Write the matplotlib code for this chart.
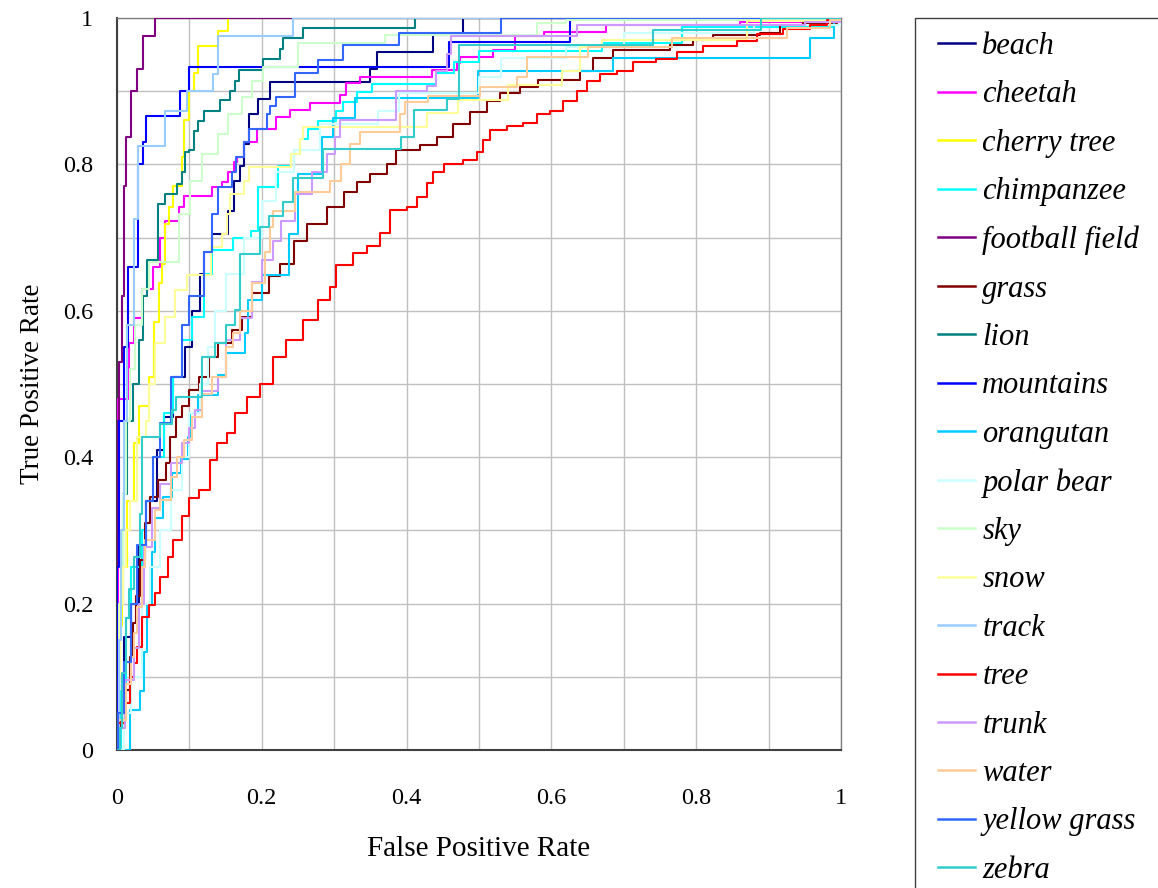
import matplotlib
matplotlib.use("Agg")
import matplotlib.pyplot as plt
from matplotlib.patches import Rectangle

plt.rcParams['font.family'] = ['Liberation Serif', 'DejaVu Serif']

labels = ["beach", "cheetah", "cherry tree", "chimpanzee", "football field", "grass",
          "lion", "mountains", "orangutan", "polar bear", "sky", "snow", "track",
          "tree", "trunk", "water", "yellow grass", "zebra"]
colors = ["#000080", "#FF00FF", "#FFFF00", "#00FFFF", "#800080", "#800000",
          "#008080", "#0000FF", "#00CCFF", "#CCFFFF", "#CCFFCC", "#FFFF99",
          "#99CCFF", "#FF0000", "#CC99FF", "#FFCC99", "#3366FF", "#33CCCC"]

# ROC vertices (fpr, tpr); drawn as post-steps
beach_fpr = [0, 0.003, 0.01, 0.02, 0.03, 0.04, 0.055, 0.065, 0.078, 0.094, 0.104, 0.115, 0.12, 0.131, 0.154, 0.161, 0.17, 0.175, 0.182, 0.195, 0.211, 0.35, 0.359, 0.437, 0.478, 1]
beach_tpr = [0, 0.1, 0.155, 0.2, 0.28, 0.34, 0.41, 0.455, 0.51, 0.55, 0.6, 0.65, 0.68, 0.705, 0.737, 0.778, 0.798, 0.828, 0.869, 0.889, 0.912, 0.931, 0.954, 0.977, 1.0, 1]

cheetah_fpr = [0, 0.001, 0.016, 0.023, 0.035, 0.05, 0.06, 0.066, 0.085, 0.092, 0.131, 0.145, 0.154, 0.161, 0.166, 0.175, 0.193, 0.22, 0.239, 0.266, 0.308, 0.316, 0.336, 0.435, 0.469, 0.474, 0.519, 0.55, 0.59, 0.676, 0.86, 1]
cheetah_tpr = [0, 0.48, 0.556, 0.59, 0.63, 0.66, 0.70, 0.723, 0.742, 0.757, 0.769, 0.776, 0.79, 0.803, 0.81, 0.83, 0.848, 0.865, 0.874, 0.884, 0.895, 0.911, 0.92, 0.929, 0.938, 0.947, 0.956, 0.975, 0.981, 0.99, 0.995, 1]

cherry_fpr = [0, 0.0, 0.004, 0.007, 0.014, 0.023, 0.03, 0.044, 0.051, 0.058, 0.062, 0.066, 0.072, 0.077, 0.09, 0.092, 0.099, 0.106, 0.112, 0.14, 0.154, 1]
cherry_tpr = [0, 0.1, 0.17, 0.25, 0.34, 0.42, 0.47, 0.51, 0.585, 0.638, 0.664, 0.718, 0.742, 0.77, 0.81, 0.86, 0.9, 0.925, 0.962, 0.982, 1.0, 1]

chimp_fpr = [0, 0.005, 0.012, 0.02, 0.035, 0.04, 0.05, 0.065, 0.078, 0.09, 0.103, 0.12, 0.131, 0.16, 0.185, 0.195, 0.222, 0.241, 0.253, 0.264, 0.278, 0.303, 0.312, 0.331, 0.352, 0.44, 0.465, 0.5, 0.67, 0.78, 0.99, 1]
chimp_tpr = [0, 0.08, 0.18, 0.25, 0.3, 0.34, 0.4, 0.46, 0.51, 0.56, 0.592, 0.65, 0.683, 0.7, 0.709, 0.769, 0.798, 0.814, 0.835, 0.848, 0.859, 0.873, 0.885, 0.899, 0.91, 0.925, 0.94, 0.955, 0.966, 0.988, 1.0, 1]

football_fpr = [0, 0.0, 0.003, 0.007, 0.009, 0.01, 0.013, 0.019, 0.028, 0.036, 0.052, 1]
football_tpr = [0, 0.45, 0.53, 0.62, 0.70, 0.77, 0.837, 0.90, 0.93, 0.975, 1.0, 1]

grass_fpr = [0, 0.004, 0.011, 0.018, 0.022, 0.026, 0.032, 0.039, 0.046, 0.056, 0.067, 0.073, 0.081, 0.09, 0.099, 0.113, 0.127, 0.14, 0.159, 0.173, 0.186, 0.21, 0.225, 0.244, 0.262, 0.29, 0.313, 0.331, 0.349, 0.373, 0.386, 0.419, 0.442, 0.464, 0.488, 0.511, 0.529, 0.557, 0.581, 0.64, 0.657, 0.685, 0.764, 0.796, 0.823, 0.888, 0.916, 0.948, 0.994, 1]
grass_tpr = [0, 0.04, 0.082, 0.127, 0.173, 0.21, 0.26, 0.31, 0.346, 0.369, 0.392, 0.428, 0.455, 0.47, 0.492, 0.51, 0.537, 0.556, 0.574, 0.592, 0.624, 0.647, 0.664, 0.696, 0.718, 0.742, 0.762, 0.776, 0.787, 0.8, 0.82, 0.826, 0.837, 0.855, 0.872, 0.886, 0.897, 0.906, 0.915, 0.927, 0.945, 0.956, 0.963, 0.97, 0.977, 0.98, 0.99, 0.993, 0.997, 1]

lion_fpr = [0, 0.003, 0.008, 0.014, 0.022, 0.03, 0.036, 0.042, 0.057, 0.066, 0.083, 0.09, 0.094, 0.1, 0.106, 0.112, 0.12, 0.142, 0.156, 0.163, 0.168, 0.202, 0.225, 0.229, 0.257, 0.412, 1]
lion_tpr = [0, 0.2, 0.35, 0.45, 0.5, 0.56, 0.62, 0.67, 0.746, 0.76, 0.773, 0.79, 0.817, 0.82, 0.846, 0.859, 0.873, 0.888, 0.9, 0.914, 0.929, 0.944, 0.957, 0.973, 0.986, 1.0, 1]

mount_fpr = [0, 0.0, 0.003, 0.01, 0.015, 0.029, 0.036, 0.04, 0.087, 0.1, 0.459, 0.626, 1]
mount_tpr = [0, 0.25, 0.45, 0.55, 0.66, 0.80, 0.83, 0.866, 0.9, 0.933, 0.967, 1.0, 1]

orang_fpr = [0, 0.018, 0.032, 0.037, 0.041, 0.048, 0.053, 0.064, 0.076, 0.089, 0.098, 0.101, 0.112, 0.14, 0.151, 0.177, 0.181, 0.2, 0.237, 0.25, 0.283, 0.299, 0.329, 0.499, 0.685, 0.957, 0.991, 1]
orang_tpr = [0, 0.055, 0.08, 0.134, 0.2, 0.271, 0.317, 0.346, 0.378, 0.398, 0.428, 0.46, 0.485, 0.512, 0.542, 0.569, 0.615, 0.649, 0.705, 0.787, 0.837, 0.864, 0.891, 0.927, 0.945, 0.972, 1.0, 1]

polar_fpr = [0, 0.01, 0.02, 0.035, 0.045, 0.06, 0.075, 0.09, 0.1, 0.115, 0.125, 0.135, 0.15, 0.175, 0.2, 0.22, 0.245, 0.28, 0.36, 0.39, 0.5, 0.53, 0.62, 0.7, 0.88, 1]
polar_tpr = [0, 0.05, 0.1, 0.2, 0.25, 0.3, 0.355, 0.4, 0.46, 0.5, 0.55, 0.6, 0.65, 0.7, 0.75, 0.79, 0.82, 0.855, 0.873, 0.897, 0.92, 0.945, 0.96, 0.98, 0.99, 1]

sky_fpr = [0, 0.003, 0.008, 0.012, 0.018, 0.025, 0.035, 0.044, 0.085, 0.101, 0.117, 0.14, 0.154, 0.173, 0.186, 0.202, 0.25, 0.37, 0.58, 0.62, 1]
sky_tpr = [0, 0.2, 0.35, 0.45, 0.52, 0.58, 0.63, 0.667, 0.732, 0.778, 0.814, 0.842, 0.869, 0.892, 0.914, 0.933, 0.966, 0.977, 0.993, 0.997, 1]

snow_fpr = [0, 0.003, 0.004, 0.008, 0.012, 0.018, 0.028, 0.04, 0.044, 0.053, 0.066, 0.08, 0.096, 0.13, 0.145, 0.152, 0.156, 0.175, 0.182, 0.241, 0.253, 0.257, 0.428, 0.471, 0.54, 0.614, 0.64, 0.67, 0.87, 1]
snow_tpr = [0, 0.1, 0.2, 0.25, 0.3, 0.34, 0.428, 0.45, 0.5, 0.556, 0.592, 0.628, 0.649, 0.687, 0.705, 0.732, 0.76, 0.778, 0.796, 0.814, 0.835, 0.851, 0.87, 0.888, 0.908, 0.927, 0.96, 0.97, 0.996, 1]

track_fpr = [0, 0.003, 0.006, 0.01, 0.014, 0.023, 0.029, 0.066, 0.096, 0.133, 0.14, 0.243, 1]
track_tpr = [0, 0.15, 0.3, 0.45, 0.58, 0.725, 0.825, 0.873, 0.90, 0.923, 0.975, 1.0, 1]

tree_fpr = [0, 0.002, 0.011, 0.018, 0.023, 0.028, 0.035, 0.044, 0.053, 0.06, 0.071, 0.078, 0.09, 0.099, 0.113, 0.128, 0.138, 0.152, 0.163, 0.179, 0.198, 0.216, 0.234, 0.257, 0.278, 0.294, 0.303, 0.326, 0.345, 0.363, 0.377, 0.4, 0.414, 0.428, 0.437, 0.451, 0.478, 0.497, 0.506, 0.515, 0.538, 0.561, 0.58, 0.598, 0.616, 0.635, 0.649, 0.667, 0.69, 0.713, 0.745, 0.773, 0.81, 0.856, 0.884, 0.92, 0.957, 0.98, 1]
tree_tpr = [0, 0.037, 0.064, 0.1, 0.119, 0.141, 0.182, 0.198, 0.214, 0.237, 0.264, 0.287, 0.319, 0.344, 0.355, 0.396, 0.419, 0.433, 0.46, 0.482, 0.5, 0.537, 0.56, 0.587, 0.615, 0.633, 0.662, 0.679, 0.688, 0.706, 0.738, 0.742, 0.755, 0.774, 0.79, 0.801, 0.806, 0.817, 0.833, 0.847, 0.852, 0.857, 0.869, 0.873, 0.887, 0.9, 0.914, 0.923, 0.928, 0.94, 0.944, 0.953, 0.962, 0.969, 0.978, 0.985, 0.99, 0.997, 1]

trunk_fpr = [0, 0.004, 0.011, 0.023, 0.03, 0.037, 0.048, 0.06, 0.074, 0.09, 0.1, 0.108, 0.117, 0.14, 0.15, 0.17, 0.186, 0.2, 0.216, 0.227, 0.246, 0.269, 0.29, 0.301, 0.308, 0.386, 0.428, 0.44, 0.456, 0.461, 0.636, 0.95, 1]
trunk_tpr = [0, 0.03, 0.096, 0.14, 0.2, 0.277, 0.33, 0.364, 0.392, 0.419, 0.44, 0.464, 0.49, 0.51, 0.56, 0.59, 0.64, 0.67, 0.695, 0.723, 0.76, 0.789, 0.814, 0.837, 0.86, 0.9, 0.907, 0.928, 0.951, 0.976, 0.99, 0.995, 1]

water_fpr = [0, 0.002, 0.012, 0.02, 0.024, 0.028, 0.035, 0.039, 0.053, 0.06, 0.074, 0.083, 0.092, 0.104, 0.117, 0.131, 0.15, 0.16, 0.17, 0.186, 0.205, 0.212, 0.216, 0.246, 0.294, 0.31, 0.322, 0.335, 0.391, 0.398, 0.43, 0.501, 0.552, 0.566, 0.651, 0.766, 0.925, 0.985, 1]
water_tpr = [0, 0.041, 0.09, 0.127, 0.16, 0.196, 0.25, 0.287, 0.328, 0.342, 0.373, 0.4, 0.423, 0.455, 0.487, 0.51, 0.551, 0.57, 0.6, 0.638, 0.68, 0.715, 0.737, 0.762, 0.778, 0.8, 0.828, 0.844, 0.869, 0.885, 0.894, 0.906, 0.92, 0.947, 0.96, 0.972, 0.986, 0.997, 1]

ygrass_fpr = [0, 0.002, 0.01, 0.02, 0.028, 0.04, 0.05, 0.06, 0.074, 0.09, 0.1, 0.12, 0.131, 0.14, 0.159, 0.165, 0.175, 0.182, 0.207, 0.211, 0.22, 0.246, 0.278, 0.312, 0.39, 0.531, 1]
ygrass_tpr = [0, 0.05, 0.12, 0.2, 0.28, 0.34, 0.4, 0.447, 0.51, 0.58, 0.62, 0.68, 0.732, 0.769, 0.79, 0.81, 0.83, 0.848, 0.869, 0.88, 0.892, 0.925, 0.943, 0.963, 0.98, 1.0, 1]

zebra_fpr = [0, 0.004, 0.007, 0.012, 0.016, 0.023, 0.032, 0.035, 0.06, 0.076, 0.081, 0.117, 0.135, 0.15, 0.163, 0.17, 0.197, 0.21, 0.229, 0.243, 0.285, 0.392, 0.41, 0.456, 0.472, 0.74, 0.89, 1]
zebra_tpr = [0, 0.03, 0.105, 0.18, 0.22, 0.264, 0.323, 0.428, 0.446, 0.464, 0.482, 0.537, 0.556, 0.58, 0.601, 0.678, 0.714, 0.73, 0.748, 0.782, 0.821, 0.838, 0.874, 0.89, 0.963, 0.984, 1.0, 1]

curves = [(beach_fpr, beach_tpr), (cheetah_fpr, cheetah_tpr), (cherry_fpr, cherry_tpr),
          (chimp_fpr, chimp_tpr), (football_fpr, football_tpr), (grass_fpr, grass_tpr),
          (lion_fpr, lion_tpr), (mount_fpr, mount_tpr), (orang_fpr, orang_tpr),
          (polar_fpr, polar_tpr), (sky_fpr, sky_tpr), (snow_fpr, snow_tpr),
          (track_fpr, track_tpr), (tree_fpr, tree_tpr), (trunk_fpr, trunk_tpr),
          (water_fpr, water_tpr), (ygrass_fpr, ygrass_tpr), (zebra_fpr, zebra_tpr)]

grid_vals = [i / 10 for i in range(11)]
tick_labels = ["0", "", "0.2", "", "0.4", "", "0.6", "", "0.8", "", "1"]

W, H = 1158, 888
fig = plt.figure(figsize=(W / 100, H / 100), dpi=100)
ax = fig.add_axes([117 / W, (888 - 750) / H, (841 - 117) / W, (750 - 18) / H])

for (fx, ty), lab, col in zip(curves, labels, colors):
    ax.plot(fx, ty, drawstyle='steps-post', color=col, lw=1.5, label=lab, zorder=3)

ax.set_xlim(0, 1)
ax.set_ylim(0, 1)
ax.set_xticks(grid_vals)
ax.set_yticks(grid_vals)
ax.set_xticklabels(tick_labels)
ax.set_yticklabels(tick_labels)
ax.grid(True, color="#C0C0C0", lw=1.0, zorder=0)
ax.tick_params(length=0, labelsize=17.5)
ax.tick_params(axis='x', pad=27)
ax.tick_params(axis='y', pad=17)
for s in ax.spines.values():
    s.set_color("#808080")
    s.set_linewidth(1.0)
ax.spines['left'].set_color("#404040")
ax.spines['left'].set_linewidth(1.5)
ax.spines['bottom'].set_color("#404040")
ax.spines['bottom'].set_linewidth(1.5)

ax.set_xlabel("False Positive Rate", fontsize=21, labelpad=20)
ax.set_ylabel("True Positive Rate", fontsize=19.5, labelpad=13)

# legend frame running off the right and bottom edges, as in the reference
fig.patches.append(Rectangle((915 / W, -0.02), 0.5, 1 - 18 / H + 0.02,
                             transform=fig.transFigure, fill=False,
                             edgecolor="#404040", lw=1.0))

leg = fig.legend(loc='upper left', bbox_to_anchor=(938 / W, 1 - 32 / H),
                 prop={'family': 'Liberation Serif', 'style': 'italic', 'size': 22},
                 frameon=False, handlelength=1.2, handletextpad=0.25,
                 labelspacing=0.635, borderpad=0, borderaxespad=0)
for h in leg.get_lines():
    h.set_linewidth(1.8)

fig.savefig("out.png", dpi=100)
